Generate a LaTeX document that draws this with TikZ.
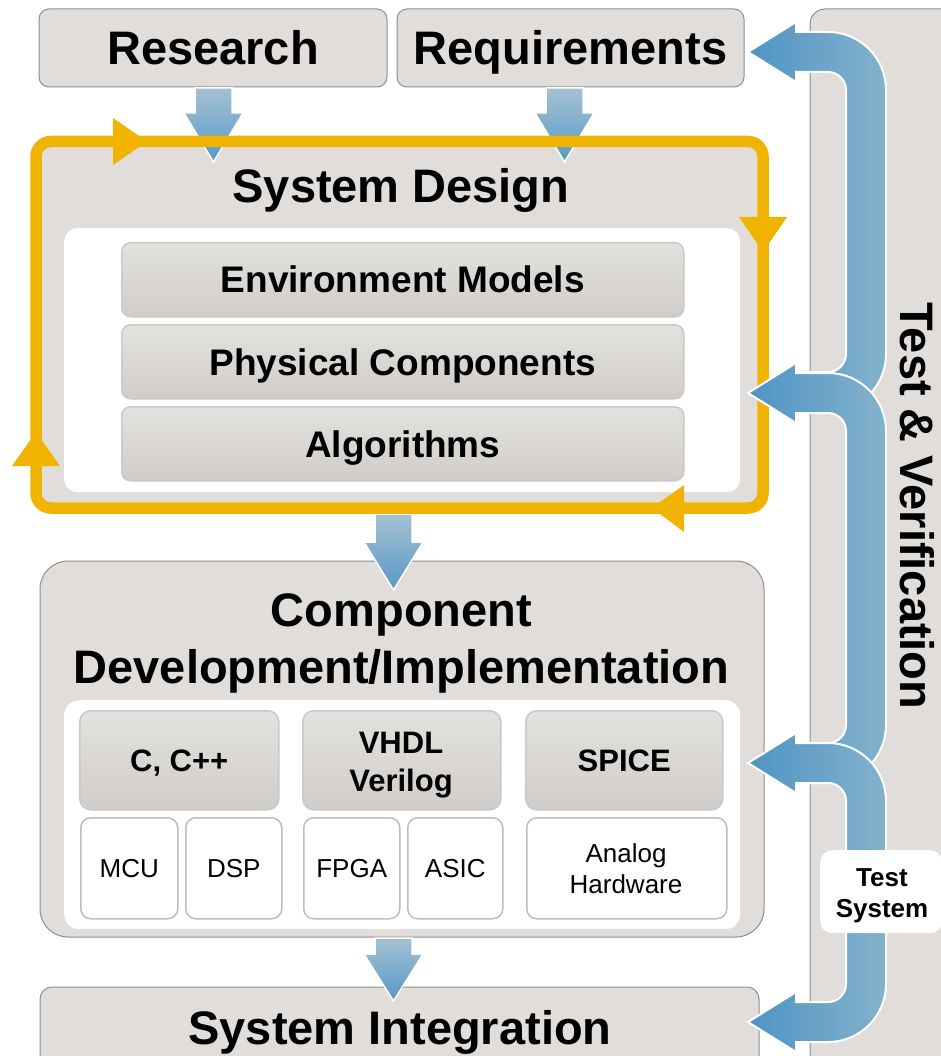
\documentclass[tikz,border=0pt]{standalone}
\usepackage{fontspec}
\setmainfont{Liberation Sans}
\definecolor{panelgray}{HTML}{E0DDDB}
\definecolor{edgegray}{HTML}{8E8E8E}
\definecolor{orangeline}{HTML}{F0B400}
\definecolor{innertop}{HTML}{E3E2DF}
\definecolor{innerbot}{HTML}{D0CCC9}
\definecolor{inneredge}{HTML}{CCC8C5}
\definecolor{subedge}{HTML}{BEBEBE}
\definecolor{blueA}{HTML}{4F94C4}
\definecolor{blueB}{HTML}{7BADCA}
\definecolor{blueC}{HTML}{84B2CC}
\definecolor{shaftTop}{HTML}{A6C1D3}
\definecolor{shaftBot}{HTML}{5598C6}
\newcommand\fTitle{\fontsize{47pt}{57pt}\selectfont\bfseries}
\newcommand\fInner{\fontsize{37pt}{44pt}\selectfont\bfseries}
\newcommand\fSub{\fontsize{31pt}{38pt}\selectfont\bfseries}
\newcommand\fSmall{\fontsize{26pt}{31pt}\selectfont}
\newcommand\fSmallB{\fontsize{26pt}{31pt}\selectfont\bfseries}
\tikzset{
  graybox/.style={rectangle, rounded corners=10pt, fill=panelgray, draw=edgegray, line width=1pt,
    inner sep=0pt, outer sep=0pt, anchor=north west},
  titletext/.style={inner sep=0pt, font=\fTitle, text height=34pt, text depth=0pt, align=center},
  whitepanel/.style={rectangle, rounded corners=13pt, fill=white, inner sep=0pt, anchor=north west},
  innerbox/.style={rectangle, rounded corners=9pt, top color=innertop, bottom color=innerbot,
    draw=inneredge, line width=1.5pt, inner sep=0pt, anchor=north west,
    font=\fInner, text height=26.5pt, text depth=0pt},
  subhead/.style={rectangle, rounded corners=11pt, top color=innertop, bottom color=innerbot,
    draw=inneredge, line width=1.5pt, inner sep=0pt, anchor=north west},
  subtext/.style={inner sep=0pt, font=\fSub, text height=22.2pt, text depth=0pt, align=center},
  leafbox/.style={rectangle, rounded corners=10pt, fill=white, draw=subedge, line width=1.5pt,
    inner sep=0pt, anchor=north west, font=\fSmall, text height=18.6pt, text depth=0pt, align=center},
  downarrow/.style={top color=shaftTop, bottom color=shaftBot, draw=white, line width=1.5pt, line join=miter},
  sidearrow/.style={left color=blueA, middle color=blueB, right color=blueC, draw=white, line width=2pt, line join=miter},
  orangehead/.style={fill=orangeline, draw=none}
}
\begin{document}
\begin{tikzpicture}[x=1pt,y=-1pt]
\useasboundingbox (0,0) rectangle (941,1056);
\clip (0,0) rectangle (941,1056);

% Test & Verification panel
\node[graybox, rounded corners=15pt, minimum width=160pt, minimum height=1080pt] (tvpanel) at (810,9) {};

% top boxes
\node[graybox, minimum width=348pt, minimum height=78pt, font=\fTitle, text height=34pt, text depth=0pt] (research) at (39,9) {Research};
\node[graybox, minimum width=347pt, minimum height=78pt, font=\fTitle, text height=34pt, text depth=0pt] (requirements) at (397,9) {Requirements};

% System Design
\node[graybox, draw=none, rounded corners=15pt, minimum width=727pt, minimum height=367pt] (sd) at (36,141) {};
\node[titletext] (sdtitle) at (401,186) {System Design};
\node[whitepanel, minimum width=676pt, minimum height=264pt] (sdpanel) at (64,228) {};
\node[innerbox, minimum width=562pt, minimum height=74pt] (env) at (121,242) {Environment Models};
\node[innerbox, minimum width=562pt, minimum height=74pt] (phys) at (121,324) {Physical Components};
\node[innerbox, minimum width=562pt, minimum height=74pt] (algo) at (121,406) {Algorithms};

% Component Development
\node[graybox, rounded corners=28pt, minimum width=724pt, minimum height=376pt] (cd) at (40,561) {};
\node[titletext] (cdtitle) at (401.5,666) {Component\\Development/Implementation};
\node[whitepanel, rounded corners=15pt, minimum width=676pt, minimum height=229pt] (cdpanel) at (64,700) {};
\node[subhead, minimum width=199pt, minimum height=99pt] (chead) at (79,710) {};
\node[subtext] (ctext) at (chead.center) {C, C++};
\node[subhead, minimum width=198pt, minimum height=99pt] (vhead) at (302,710) {};
\node[subtext] (vtext) at (401,780) {VHDL\\Verilog};
\node[subhead, minimum width=197pt, minimum height=99pt] (shead) at (525,710) {};
\node[subtext] (stext) at (shead.center) {SPICE};
\node[leafbox, minimum width=97pt, minimum height=101pt] (mcu) at (80,817) {MCU};
\node[leafbox, minimum width=96pt, minimum height=101pt] (dsp) at (185,817) {DSP};
\node[leafbox, minimum width=96pt, minimum height=101pt] (fpga) at (303,817) {FPGA};
\node[leafbox, minimum width=95pt, minimum height=101pt] (asic) at (407,817) {ASIC};
\node[leafbox, minimum width=200pt, minimum height=101pt] (analog) at (526,817) {};
\node[inner sep=0pt, font=\fSmall, text height=18.6pt, text depth=0pt, align=center] (analogtext) at (626,884) {Analog\\Hardware};

% System Integration
\node[graybox, rounded corners=12pt, minimum width=719pt, minimum height=100pt] (si) at (40,987) {};
\node[titletext] (sititle) at (400,1027) {System Integration};

% down arrows
\path[downarrow] (195,88) -- (232,88) -- (232,113) -- (243,113) -- (213.5,162) -- (184,113) -- (195,113) -- cycle;
\path[downarrow] (546,88) -- (583,88) -- (583,113) -- (594,113) -- (564.5,162) -- (535,113) -- (546,113) -- cycle;
\path[downarrow] (375,514) -- (412,514) -- (412,542) -- (423,542) -- (393.5,590) -- (364,542) -- (375,542) -- cycle;
\path[downarrow] (375,938) -- (412,938) -- (412,954) -- (423,954) -- (393.5,1001) -- (364,954) -- (375,954) -- cycle;

% orange loop
\draw[orangeline, line width=11.5pt, rounded corners=15pt] (36,141.5) rectangle (763,508);
\path[orangehead] (113,118) -- (147,141.5) -- (113,165) -- cycle;
\path[orangehead] (739,217) -- (787,217) -- (763,252) -- cycle;
\path[orangehead] (684,485) -- (684,532) -- (652,508) -- cycle;
\path[orangehead] (12,466) -- (60,466) -- (36,432) -- cycle;

% side arrows
\path[sidearrow] (748,52) -- (796,22) -- (796,32) -- (828,32)
  .. controls (860.03,32) and (886,57.97) .. (886,90) -- (886,354)
  .. controls (886,386.03) and (860.03,412) .. (828,412) -- (805,412) -- (805,372) -- (828,372)
  .. controls (837.94,372) and (846,363.94) .. (846,354) -- (846,90)
  .. controls (846,80.06) and (837.94,72) .. (828,72) -- (796,72) -- (796,82) -- cycle;
\path[sidearrow] (748,393) -- (796,363) -- (796,373) -- (828,373)
  .. controls (860.03,373) and (886,398.97) .. (886,431) -- (886,725)
  .. controls (886,757.03) and (860.03,783) .. (828,783) -- (805,783) -- (805,743) -- (828,743)
  .. controls (837.94,743) and (846,734.94) .. (846,725) -- (846,431)
  .. controls (846,421.06) and (837.94,413) .. (828,413) -- (796,413) -- (796,423) -- cycle;
\path[sidearrow] (748,763) -- (796,733) -- (796,743) -- (828,743)
  .. controls (860.03,743) and (886,768.97) .. (886,801) -- (886,984)
  .. controls (886,1016.03) and (860.03,1042) .. (828,1042) -- (796,1042) -- (796,1052)
  -- (748,1022) -- (796,992) -- (796,1002) -- (828,1002)
  .. controls (837.94,1002) and (846,993.94) .. (846,984) -- (846,801)
  .. controls (846,791.06) and (837.94,783) .. (828,783) -- (796,783) -- (796,793) -- cycle;

% Test System label
\node[whitepanel, rounded corners=12pt, minimum width=122pt, minimum height=83pt] (tslabel) at (820,850) {};
\node[inner sep=0pt, font=\fSmallB, text height=18.6pt, text depth=0pt, align=center] (tstext) at (882,908) {Test\\System};

% Test & Verification
\node[inner sep=0pt, font=\fTitle, text height=34pt, text depth=0pt, rotate=-90] (tvtext) at (917,506) {Test \& Verification};
\end{tikzpicture}
\end{document}
